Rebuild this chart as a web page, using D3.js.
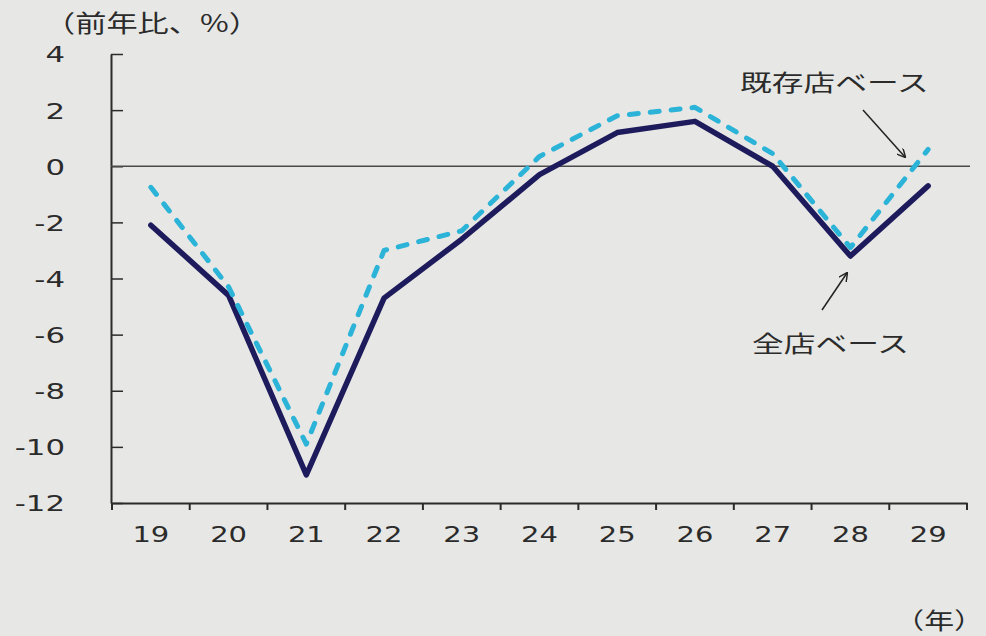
<!DOCTYPE html>
<html>
<head>
<meta charset="utf-8">
<title>前年比</title>
<script src="https://d3js.org/d3.v7.min.js"></script>
<style>
  body { margin: 0; background: #e7e7e5; }
  svg { display: block; }
  .lbl { font-family: "DejaVu Sans", sans-serif; fill: #2b2b2b; }
  .jp { font-family: "Noto Sans CJK JP", sans-serif; fill: #2b2b2b; }
</style>
</head>
<body>
<svg id="chart" width="986" height="636"></svg>
<script>
// years (平成), y/y % change
var years = ["19", "20", "21", "22", "23", "24", "25", "26", "27", "28", "29"];
var allStores = [-2.1, -4.6, -11.0, -4.7, -2.6, -0.3, 1.2, 1.6, 0.0, -3.2, -0.7];       // 全店ベース
var existingStores = [-0.75, -4.3, -9.9, -3.0, -2.3, 0.35, 1.8, 2.1, 0.45, -2.9, 0.6]; // 既存店ベース
var yTicks = [4, 2, 0, -2, -4, -6, -8, -10, -12];

var svg = d3.select("#chart");
svg.append("rect").attr("width", 986).attr("height", 636).attr("fill", "#e7e7e5");

var x = d3.scaleBand().domain(years).range([112, 967]).padding(0);
var y = d3.scaleLinear().domain([-12, 4]).range([503, 54]);
var cx = function(d) { return x(d) + x.bandwidth() / 2; };

// y axis, ticks pointing inward
var yAxis = svg.append("g")
    .attr("transform", "translate(111,0)")
    .call(d3.axisLeft(y).tickValues(yTicks).tickSizeInner(-12).tickSizeOuter(0).tickFormat(function(d) { return d; }));
yAxis.select(".domain").attr("stroke", "#2b2b2b").attr("stroke-width", 2);
yAxis.selectAll(".tick line").attr("stroke", "#2b2b2b").attr("stroke-width", 1.5);
yAxis.selectAll(".tick text")
    .attr("class", "lbl")
    .attr("x", 0).attr("dy", "0.36em")
    .attr("text-anchor", "end")
    .attr("font-size", 22)
    .attr("transform", "translate(-46,0) scale(1.4,1)");

// x axis labels, ticks between categories
var xAxis = svg.append("g")
    .attr("transform", "translate(0,503)")
    .call(d3.axisBottom(x).tickSize(0).tickPadding(0));
xAxis.select(".domain").attr("stroke", "#2b2b2b").attr("stroke-width", 2);
xAxis.selectAll(".tick text")
    .attr("class", "lbl")
    .attr("y", 0).attr("dy", 0)
    .attr("font-size", 21)
    .attr("transform", "translate(0,39) scale(1.38,1)");
xAxis.selectAll(".bnd")
    .data(years.map(function(d) { return x(d); }).concat([x.range()[1]]))
    .enter().append("line")
    .attr("x1", function(d) { return d; }).attr("x2", function(d) { return d; })
    .attr("y1", 0).attr("y2", 7)
    .attr("stroke", "#2b2b2b").attr("stroke-width", 2);

// zero line
svg.append("line")
    .attr("x1", 111).attr("x2", 970)
    .attr("y1", y(0)).attr("y2", y(0))
    .attr("stroke", "#4a4a4a").attr("stroke-width", 1.5);

var line = d3.line().x(function(d, i) { return cx(years[i]); }).y(function(d) { return y(d); });

svg.append("path").datum(allStores)
    .attr("d", line)
    .attr("fill", "none")
    .attr("stroke", "#1e1b5c")
    .attr("stroke-width", 5.5)
    .attr("stroke-linejoin", "round")
    .attr("stroke-linecap", "round");

svg.append("path").datum(existingStores)
    .attr("d", line)
    .attr("fill", "none")
    .attr("stroke", "#2cb3d8")
    .attr("stroke-width", 5)
    .attr("stroke-dasharray", "9,12")
    .attr("stroke-linecap", "round")
    .attr("stroke-linejoin", "round");

// titles
svg.append("text").attr("class", "jp")
    .attr("font-size", 24)
    .attr("transform", "translate(44,32) scale(1.3,1)")
    .text("（前年比、%）");

svg.append("text").attr("class", "jp")
    .attr("font-size", 23)
    .attr("transform", "translate(984,629) scale(1.3,1)")
    .attr("text-anchor", "end")
    .text("（年）");

// annotations
svg.append("text").attr("class", "jp")
    .attr("font-size", 23)
    .attr("transform", "translate(740,91) scale(1.38,1)")
    .text("既存店ベース");

svg.append("text").attr("class", "jp")
    .attr("font-size", 23)
    .attr("transform", "translate(752,352) scale(1.38,1)")
    .text("全店ベース");

var defs = svg.append("defs");
defs.append("marker")
    .attr("id", "head")
    .attr("viewBox", "0 0 10 10")
    .attr("refX", 9).attr("refY", 5)
    .attr("markerWidth", 9).attr("markerHeight", 9)
    .attr("markerUnits", "userSpaceOnUse")
    .attr("orient", "auto")
  .append("path")
    .attr("d", "M0,0 L10,5 L0,10")
    .attr("fill", "none")
    .attr("stroke", "#222")
    .attr("stroke-width", 1.6);

svg.append("line")
    .attr("x1", 863).attr("y1", 110).attr("x2", 905).attr("y2", 157)
    .attr("stroke", "#222").attr("stroke-width", 1.5)
    .attr("marker-end", "url(#head)");

svg.append("line")
    .attr("x1", 822).attr("y1", 310).attr("x2", 847).attr("y2", 273)
    .attr("stroke", "#222").attr("stroke-width", 1.5)
    .attr("marker-end", "url(#head)");
</script>
</body>
</html>
